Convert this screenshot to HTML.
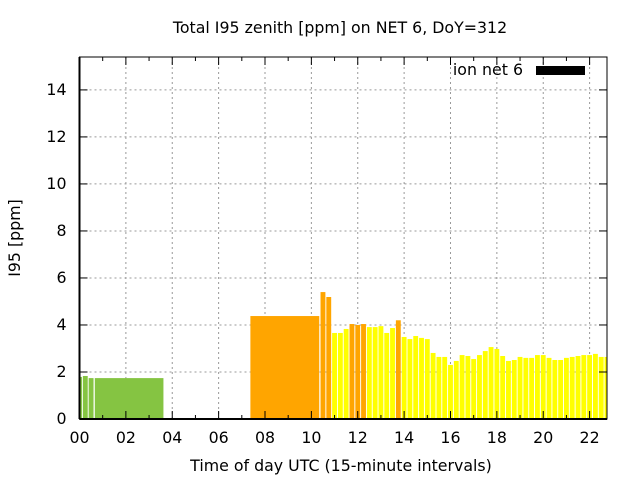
<!DOCTYPE html>
<html><head><meta charset="utf-8"><style>
body{margin:0;background:#fff}
svg{display:block;font-family:"DejaVu Sans","Liberation Sans",sans-serif}
</style></head><body>
<svg id="chart" width="640" height="480">
<text x="340" y="33" font-size="15.8" text-anchor="middle">Total I95 zenith [ppm] on NET 6, DoY=312</text>
<text x="341" y="471" font-size="15.8" text-anchor="middle">Time of day UTC (15-minute intervals)</text>
<text x="20" y="238" font-size="15.8" text-anchor="middle" transform="rotate(-90 20 238)">I95 [ppm]</text>
<g id="grid"></g><g id="bars"></g><g id="axes"></g>
<g>
<text x="523" y="75" font-size="15.8" text-anchor="end">ion net 6</text>
<rect x="536" y="66" width="49" height="9" fill="#000"/>
</g>
</svg>
<script>
const wideStart=[0.66,7.37];
const wideEnd=[3.62,10.34];
const wideValues=[1.74,4.38];
const wideColors=["g","o"];
const smallTimes=[0,0.25,0.5];
const smallValues=[1.79,1.83,1.74];
const smallColors=["g","g","g"];
const regStart=10.5;
const regValues=[5.40,5.19,3.66,3.66,3.83,4.04,4.0,4.04,3.91,3.91,3.95,3.66,3.87,4.2,3.49,3.4,3.53,3.45,3.4,2.81,2.64,2.64,2.3,2.47,2.72,2.68,2.55,2.72,2.89,3.06,2.98,2.68,2.47,2.51,2.64,2.6,2.6,2.72,2.72,2.6,2.51,2.51,2.6,2.64,2.68,2.72,2.72,2.77,2.64,2.64];
const regColors=["o","o","y","y","y","o","o","o","y","y","y","y","y","o"];
const yTicks=[0,2,4,6,8,10,12,14];
const xTickLabels=["00","02","04","06","08","10","12","14","16","18","20","22"];
const X0=79.5,X1=607,Y0=419,Y1=57,XMAX=22.75,YMAX=15.4;
const xs=t=>X0+t/XMAX*(X1-X0);
const ys=v=>Y0-v/YMAX*(Y0-Y1);
const COL={g:"#85c442",o:"#ffa500",y:"#ffff00"};
const NS="http://www.w3.org/2000/svg";
function mk(tag,attrs,parent){const e=document.createElementNS(NS,tag);for(const k in attrs)e.setAttribute(k,attrs[k]);document.getElementById(parent).appendChild(e);return e;}
function bar(t0,t1,v,c){
 const a=Math.max(xs(t0),X0+0.5),b=Math.min(xs(t1),X1);
 const r=mk("rect",{x:a,y:ys(v),width:Math.max(0,b-a),height:Y0-ys(v),fill:COL[c]},"bars");
 
 
}
const hw=0.105;
smallTimes.forEach((t,i)=>bar(t-hw,t+hw,smallValues[i],smallColors[i]));
wideStart.forEach((s,i)=>bar(s,wideEnd[i],wideValues[i],wideColors[i]));
regValues.forEach((v,i)=>{const t=regStart+i*0.25;bar(t-hw,t+hw,v,regColors[i]||"y");});
yTicks.forEach(v=>{
 const y=ys(v);
 if(v>0){const g=mk("line",{x1:X0,x2:X1,y1:y,y2:y,stroke:"#999","stroke-dasharray":"2,3"},"grid");
 }
 mk("line",{x1:X0,x2:X0+8,y1:y,y2:y,stroke:"#000"},"axes");
 mk("line",{x1:X1-8,x2:X1,y1:y,y2:y,stroke:"#000"},"axes");
 const t=mk("text",{x:X0-13,y:y+5,"font-size":15.8,"text-anchor":"end"},"axes");
 t.textContent=v;
 
});
xTickLabels.forEach((l,i)=>{
 const h=i*2,x=xs(h);
 if(h>0){const g=mk("line",{x1:x,x2:x,y1:Y1,y2:Y0,stroke:"#999","stroke-dasharray":"2,3"},"grid");
 }
 mk("line",{x1:x,x2:x,y1:Y0,y2:Y0-8,stroke:"#000"},"axes");
 mk("line",{x1:x,x2:x,y1:Y1,y2:Y1+8,stroke:"#000"},"axes");
 const xm=xs(h+1);
 if(h+1<XMAX){mk("line",{x1:xm,x2:xm,y1:Y0,y2:Y0-4,stroke:"#000"},"axes");mk("line",{x1:xm,x2:xm,y1:Y1,y2:Y1+4,stroke:"#000"},"axes");}
 const t=mk("text",{x:x,y:443,"font-size":15.8,"text-anchor":"middle"},"axes");
 t.textContent=l;
 
});
const f=mk("rect",{x:X0,y:Y1,width:X1-X0,height:Y0-Y1,fill:"none",stroke:"#000","stroke-width":1},"axes");

const ax=mk("line",{x1:X0,x2:X1,y1:Y0,y2:Y0,stroke:"#000","stroke-width":2},"axes");

const ay=mk("line",{x1:X0,x2:X0,y1:Y1,y2:Y0,stroke:"#000","stroke-width":2},"axes");

</script>
</body></html>
